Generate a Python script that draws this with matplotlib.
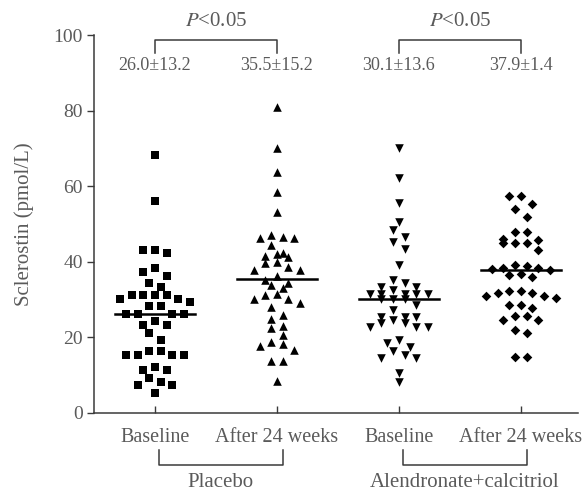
import numpy as np
import matplotlib.pyplot as plt

plt.rcParams['font.family'] = ['Liberation Serif', 'DejaVu Serif']
plt.rcParams['mathtext.fontset'] = 'stix'

groups = ['Baseline', 'After 24 weeks', 'Baseline', 'After 24 weeks']
treatments = ['Placebo', 'Alendronate+calcitriol']
mean_labels = ['26.0\u00b113.2', '35.5\u00b115.2', '30.1\u00b113.6', '37.9\u00b11.4']
means = [26.0, 35.5, 30.1, 37.9]

placebo_base = [68.1, 56.1, 43.2, 43.2, 42.2, 38.2, 37.2, 36.2, 34.2, 33.2,
                31.2, 31.2, 31.2, 31.2, 30.2, 30.2, 29.2, 28.2, 28.2,
                26.2, 26.2, 26.2, 26.2, 24.2, 23.2, 23.2, 21.2, 19.2,
                16.2, 16.2, 15.2, 15.2, 15.2, 15.2, 12.2, 11.2, 11.2,
                9.2, 8.2, 7.2, 7.2, 5.2]
placebo_24w = [80.9, 70.0, 63.8, 58.4, 53.2, 47.0, 46.5, 46.2, 46.2, 44.4,
               42.2, 42.0, 41.5, 41.2, 39.8, 39.5, 38.5, 37.8, 37.8,
               36.2, 35.2, 34.4, 33.8, 32.9, 31.3, 31.2, 30.1, 30.1, 29.1,
               28.0, 25.9, 24.9, 23.0, 22.3, 20.6, 18.8, 18.1, 17.7, 16.6,
               13.7, 13.7, 8.4]
alen_base = [70.0, 62.1, 55.4, 50.5, 48.3, 46.4, 45.3, 43.4, 39.2, 35.2,
             34.2, 33.3, 33.3, 32.4, 31.4, 31.4, 31.4, 31.4, 31.4,
             30.1, 30.1, 30.1, 28.4, 27.2, 25.4, 25.4, 25.2, 24.5, 23.8, 23.7,
             22.8, 22.8, 22.8, 19.2, 18.4, 17.4, 16.3, 15.3, 14.4, 14.4,
             10.4, 8.2]
alen_24w = [57.4, 57.4, 55.3, 53.8, 51.9, 47.8, 47.8, 45.8, 45.9, 44.8, 44.8,
            44.8, 43.0, 39.1, 38.8, 38.2, 38.2, 38.0, 37.8, 36.8, 36.4, 35.9,
            32.3, 32.3, 31.8, 31.8, 30.9, 30.9, 30.3, 28.5, 28.5, 27.6,
            25.5, 25.5, 24.5, 24.4, 21.9, 21.0, 14.7, 14.7]

series = [placebo_base, placebo_24w, alen_base, alen_24w]
markers = ['s', '^', 'v', 'D']
sizes = [30, 38, 38, 24]


def swarm(vals, h=2.2, step=0.095):
    # Prism-like scatter: bin values into rows, spread each row around the centre
    vals = np.asarray(vals)
    order = np.argsort(-vals, kind='stable')
    offs = np.zeros(len(vals))
    rows = []
    for i in order:
        if rows and vals[rows[-1][0]] - vals[i] <= h:
            rows[-1].append(i)
        else:
            rows.append([i])
    for row in rows:
        n = len(row)
        slots = np.arange(n) - (n - 1) / 2
        slots = sorted(slots, key=lambda s: (abs(s), s))
        for i, s in zip(row, slots):
            offs[i] = s * step
    return offs


grey = '#5a5a5a'
dark = '#3a3a3a'

fig = plt.figure(figsize=(5.87, 4.93), dpi=100)
ax = fig.add_axes([0.160, 0.163, 0.825, 0.766])

pos = np.arange(1, 5)
for p, vals, m, s, mu in zip(pos, series, markers, sizes, means):
    x = p + swarm(vals)
    ax.scatter(x, vals, marker=m, s=s, c='black', linewidths=0, zorder=3)
    ax.plot([p - 0.33, p + 0.33], [mu, mu], color='black', lw=1.8, zorder=4)

ax.set_xlim(0.5, 4.47)
ax.set_ylim(0, 100)
ax.set_yticks([0, 20, 40, 60, 80, 100])
ax.set_xticks(pos)
ax.set_xticklabels(groups, fontsize=14.5, color=grey)
ax.set_ylabel('Sclerostin (pmol/L)', fontsize=15, color=grey, labelpad=14)
ax.tick_params(axis='y', direction='out', length=5, width=1, color=dark,
               labelsize=14, labelcolor=grey, pad=3)
ax.tick_params(axis='x', direction='in', length=5, width=1, color=dark, pad=11)
for side in ['top', 'right']:
    ax.spines[side].set_visible(False)
for side in ['left', 'bottom']:
    ax.spines[side].set_color(dark)
    ax.spines[side].set_linewidth(1.1)

# mean +/- SD above each group
for p, lab in zip(pos, mean_labels):
    ax.text(p, 92, lab, ha='center', va='center', fontsize=13, color=grey)

# significance brackets on top
for a, b in [(1, 2), (3, 4)]:
    ax.plot([a, a, b, b], [95.3, 98.7, 98.7, 95.3], color=dark, lw=1.1,
            clip_on=False)
    ax.text((a + b) / 2, 103.5, '$P$<0.05', ha='center', va='center',
            fontsize=15, color=grey)

# treatment brackets below the axis
for (a, b), name in zip([(1, 2), (3, 4)], treatments):
    ax.plot([a + 0.03, a + 0.03, b + 0.05, b + 0.05], [-9.9, -13.8, -13.8, -9.9],
            color=dark, lw=1.1, clip_on=False)
    ax.text((a + b) / 2 + 0.04, -18.4, name, ha='center', va='center',
            fontsize=15, color=grey)

fig.savefig('out.png', dpi=100)
